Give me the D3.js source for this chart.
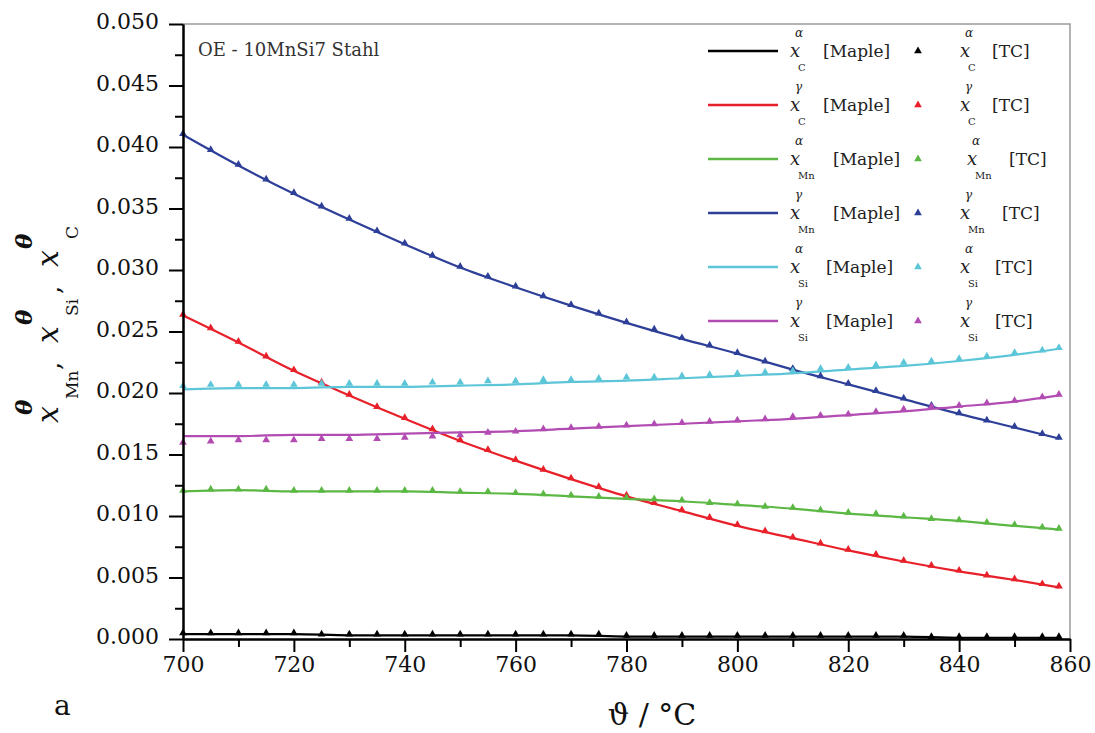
<!DOCTYPE html>
<html>
<head>
<meta charset="utf-8">
<script src="https://cdn.jsdelivr.net/npm/d3@7"></script>
<style>
  body { margin: 0; background: #fff; }
  svg { display: block; }
  svg text { font-family: "DejaVu Serif", "Liberation Serif", serif; }
</style>
</head>
<body>
<svg id="chart" width="1095" height="733"></svg>
<script>
// temperatures (°C) of the TC points and of the Maple curve nodes
const tcTemps = [700, 705, 710, 715, 720, 725, 730, 735, 740, 745, 750, 755, 760, 765, 770, 775, 780,
  785, 790, 795, 800, 805, 810, 815, 820, 825, 830, 835, 840, 845, 850, 855, 858];
const mapleTemps = [700, 710, 720, 730, 740, 750, 760, 770, 780, 790, 800, 810, 820, 830, 840, 850, 858];

// Maple curves
const mapleCalpha = [0.0004, 0.0004, 0.0004, 0.0003, 0.0003, 0.0003, 0.0003, 0.0003, 0.0002, 0.0002, 0.0002, 0.0002, 0.0002, 0.0002, 0.0001, 0.0001, 0.0001];
const mapleCgamma = [0.0263, 0.0241, 0.0218, 0.0198, 0.0179, 0.0161, 0.0145, 0.0130, 0.0116, 0.0104, 0.0092, 0.0082, 0.0072, 0.0063, 0.0055, 0.0048, 0.0042];
const mapleMnalpha = [0.0120, 0.0121, 0.0120, 0.0120, 0.0120, 0.0119, 0.0118, 0.0116, 0.0114, 0.0112, 0.0109, 0.0106, 0.0102, 0.0099, 0.0096, 0.0092, 0.0089];
const mapleMngamma = [0.0410, 0.0385, 0.0362, 0.0341, 0.0321, 0.0302, 0.0286, 0.0271, 0.0257, 0.0244, 0.0232, 0.0219, 0.0207, 0.0195, 0.0183, 0.0172, 0.0163];
const mapleSialpha = [0.0203, 0.0204, 0.0204, 0.0205, 0.0205, 0.0206, 0.0207, 0.0209, 0.0210, 0.0212, 0.0214, 0.0216, 0.0219, 0.0222, 0.0226, 0.0231, 0.0236];
const mapleSigamma = [0.0165, 0.0165, 0.0166, 0.0166, 0.0167, 0.0168, 0.0169, 0.0171, 0.0173, 0.0175, 0.0177, 0.0179, 0.0182, 0.0185, 0.0189, 0.0193, 0.0198];

// ThermoCalc points
const tcCalpha = [0.0004, 0.0004, 0.0004, 0.0004, 0.0004, 0.0003, 0.0003, 0.0003, 0.0003, 0.0003, 0.0003, 0.0003, 0.0003, 0.0003, 0.0003, 0.0003, 0.0002,
  0.0002, 0.0002, 0.0002, 0.0002, 0.0002, 0.0002, 0.0002, 0.0002, 0.0002, 0.0002, 0.0001, 0.0001, 0.0001, 0.0001, 0.0001, 0.0001];
const tcCgamma = [0.0263, 0.0252, 0.0241, 0.0229, 0.0218, 0.0208, 0.0198, 0.0188, 0.0179, 0.0170, 0.0161, 0.0153, 0.0145, 0.0137, 0.0130, 0.0123, 0.0116,
  0.0110, 0.0104, 0.0098, 0.0092, 0.0087, 0.0082, 0.0077, 0.0072, 0.0068, 0.0063, 0.0059, 0.0055, 0.0051, 0.0048, 0.0044, 0.0042];
const tcMnalpha = [0.0120, 0.0121, 0.0121, 0.0121, 0.0120, 0.0120, 0.0120, 0.0120, 0.0120, 0.0120, 0.0119, 0.0119, 0.0118, 0.0117, 0.0116, 0.0115, 0.0114,
  0.0113, 0.0112, 0.0110, 0.0109, 0.0107, 0.0106, 0.0104, 0.0102, 0.0101, 0.0099, 0.0097, 0.0096, 0.0094, 0.0092, 0.0090, 0.0089];
const tcMngamma = [0.0410, 0.0397, 0.0385, 0.0373, 0.0362, 0.0351, 0.0341, 0.0331, 0.0321, 0.0311, 0.0302, 0.0294, 0.0286, 0.0278, 0.0271, 0.0264, 0.0257,
  0.0251, 0.0244, 0.0238, 0.0232, 0.0225, 0.0219, 0.0213, 0.0207, 0.0201, 0.0195, 0.0189, 0.0183, 0.0177, 0.0172, 0.0166, 0.0163];
const tcSialpha = [0.0205, 0.0206, 0.0206, 0.0206, 0.0206, 0.0207, 0.0207, 0.0207, 0.0207, 0.0208, 0.0208, 0.0209, 0.0209, 0.0210, 0.0210, 0.0211, 0.0212,
  0.0212, 0.0213, 0.0214, 0.0215, 0.0216, 0.0217, 0.0219, 0.0220, 0.0222, 0.0224, 0.0225, 0.0227, 0.0229, 0.0232, 0.0234, 0.0236];
const tcSigamma = [0.0159, 0.0160, 0.0161, 0.0161, 0.0161, 0.0162, 0.0162, 0.0162, 0.0163, 0.0164, 0.0165, 0.0167, 0.0168, 0.0170, 0.0171, 0.0172, 0.0173,
  0.0174, 0.0175, 0.0176, 0.0177, 0.0178, 0.0180, 0.0181, 0.0182, 0.0184, 0.0186, 0.0188, 0.0189, 0.0191, 0.0193, 0.0196, 0.0198];

// legend / series labels
const phases = ['α', 'γ', 'α', 'γ', 'α', 'γ'];
const elements = ['C', 'C', 'Mn', 'Mn', 'Si', 'Si'];
const colors = ['#000000', '#e8202a', '#5cb844', '#2d3f98', '#5cc6d8', '#b24cb2'];
const mapleSeries = [mapleCalpha, mapleCgamma, mapleMnalpha, mapleMngamma, mapleSialpha, mapleSigamma];
const tcSeries = [tcCalpha, tcCgamma, tcMnalpha, tcMngamma, tcSialpha, tcSigamma];

// axes ticks
const xTicks = [700, 720, 740, 760, 780, 800, 820, 840, 860];
const xMinor = [710, 730, 750, 770, 790, 810, 830, 850];
const yTicks = [0, 0.005, 0.010, 0.015, 0.020, 0.025, 0.030, 0.035, 0.040, 0.045, 0.050];
const yMinor = [0.0025, 0.0075, 0.0125, 0.0175, 0.0225, 0.0275, 0.0325, 0.0375, 0.0425, 0.0475];

const svg = d3.select('#chart');
const margin = { left: 183, right: 25, top: 24, bottom: 94 };
const width = 1095, height = 733;

const x = d3.scaleLinear().domain([700, 860]).range([margin.left, width - margin.right]);
const y = d3.scaleLinear().domain([0, 0.05]).range([height - margin.bottom, margin.top]);

svg.append('rect').attr('width', width).attr('height', height).attr('fill', '#fff');

// gray frame top and right
svg.append('path')
  .attr('d', `M${x(700)},${y(0.05)}H${x(860)}V${y(0)}`)
  .attr('fill', 'none').attr('stroke', '#9a9a9a').attr('stroke-width', 1.5);

// curves
const line = d3.line()
  .x(d => x(d[0]))
  .y(d => y(d[1]))
  .curve(d3.curveMonotoneX);

const plot = svg.append('g');
mapleSeries.forEach((s, i) => {
  plot.append('path')
    .datum(mapleTemps.map((t, j) => [t, s[j]]))
    .attr('d', line)
    .attr('fill', 'none')
    .attr('stroke', colors[i])
    .attr('stroke-width', 2.2);
});

const tri = d3.symbol().type(d3.symbolTriangle).size(26);
tcSeries.forEach((s, i) => {
  plot.append('g').selectAll('path')
    .data(tcTemps.map((t, j) => [t, s[j]]))
    .join('path')
    .attr('d', tri)
    .attr('transform', d => `translate(${x(d[0])},${y(d[1]) - 1})`)
    .attr('fill', colors[i]);
});

// axes
function styleAxis(g) {
  g.attr('font-family', null);
  g.selectAll('path, line').attr('stroke', '#000').attr('stroke-width', 2);
  g.selectAll('text').attr('fill', '#111').style('font-size', '22px');
}

svg.append('g')
  .attr('transform', `translate(0,${y(0)})`)
  .call(d3.axisBottom(x).tickValues(xMinor).tickSize(8).tickSizeOuter(0).tickFormat(''))
  .call(styleAxis);
svg.append('g')
  .attr('transform', `translate(0,${y(0)})`)
  .call(d3.axisBottom(x).tickValues(xTicks).tickSize(13).tickSizeOuter(0).tickPadding(4).tickFormat(d3.format('d')))
  .call(styleAxis);

svg.append('g')
  .attr('transform', `translate(${x(700)},0)`)
  .call(d3.axisLeft(y).tickValues(yMinor).tickSize(8).tickSizeOuter(0).tickFormat(''))
  .call(styleAxis);
svg.append('g')
  .attr('transform', `translate(${x(700)},0)`)
  .call(d3.axisLeft(y).tickValues(yTicks).tickSize(14).tickSizeOuter(0).tickPadding(10).tickFormat(d3.format('.3f')))
  .call(styleAxis)
  .selectAll('text').attr('dy', '0.22em');

// annotation
svg.append('text')
  .attr('x', 198).attr('y', 56)
  .style('font-size', '18px').attr('fill', '#333')
  .text('OE - 10MnSi7 Stahl');

// x axis title
svg.append('text')
  .attr('x', 652).attr('y', 725)
  .attr('text-anchor', 'middle')
  .style('font-size', '30px').attr('fill', '#111')
  .text('ϑ / °C');

svg.append('text')
  .attr('x', 54).attr('y', 715)
  .style('font-size', '28px').attr('fill', '#111')
  .text('a');

// y axis title (rotated), one text with pieces placed along the text direction
const yl = svg.append('g').attr('transform', 'translate(58,430) rotate(-90)').attr('fill', '#111');
const yText = yl.append('text');
const yParts = [
  { el: 'Mn', u: 7, sub: 31, comma: 60, th: 15 },
  { el: 'Si', u: 87, sub: 114, comma: 136, th: 105 },
  { el: 'C', u: 163, sub: 191, comma: null, th: 181 }
];
yParts.forEach(p => {
  yText.append('tspan').attr('x', p.u).attr('y', 0)
    .style('font-size', '30px').style('font-style', 'italic').text('x');
  yText.append('tspan').attr('x', p.th).attr('y', -26)
    .style('font-size', '23px').style('font-style', 'italic').style('font-weight', 'bold').text('θ');
  yText.append('tspan').attr('x', p.sub).attr('y', 20)
    .style('font-size', '17px').text(p.el);
  if (p.comma !== null) {
    yText.append('tspan').attr('x', p.comma).attr('y', 2)
      .style('font-size', '26px').text(',');
  }
});

// legend: each label is one text with stacked super/subscripts
function scriptLabel(g, x0, ly, ph, el, tail, tailGap) {
  const subW = el === 'Mn' ? 18 : (el === 'Si' ? 11 : 8);
  const t = g.append('text');
  t.append('tspan').attr('x', x0).attr('y', ly + 6)
    .style('font-size', '18px').style('font-style', 'italic').text('x');
  t.append('tspan').attr('x', x0 + 5).attr('y', ly - 14)
    .style('font-size', '12px').style('font-style', 'italic').text(ph);
  t.append('tspan').attr('x', x0 + 8).attr('y', ly + 20)
    .style('font-size', '10px').text(el);
  t.append('tspan').attr('x', x0 + 8 + subW + tailGap).attr('y', ly + 6)
    .style('font-size', '17px').text(tail);
}

const legend = svg.append('g').attr('fill', '#222');
phases.forEach((ph, i) => {
  const ly = 51 + 54 * i;
  legend.append('line')
    .attr('x1', 708).attr('x2', 778).attr('y1', ly).attr('y2', ly)
    .attr('stroke', colors[i]).attr('stroke-width', 2.4);

  scriptLabel(legend, 790, ly, ph, elements[i], '[Maple]', 17);

  legend.append('path')
    .attr('d', tri)
    .attr('transform', `translate(918,${ly})`)
    .attr('fill', colors[i]);

  scriptLabel(legend, i === 2 ? 967 : 960, ly, ph, elements[i], '[TC]', 16);
});
</script>
</body>
</html>
